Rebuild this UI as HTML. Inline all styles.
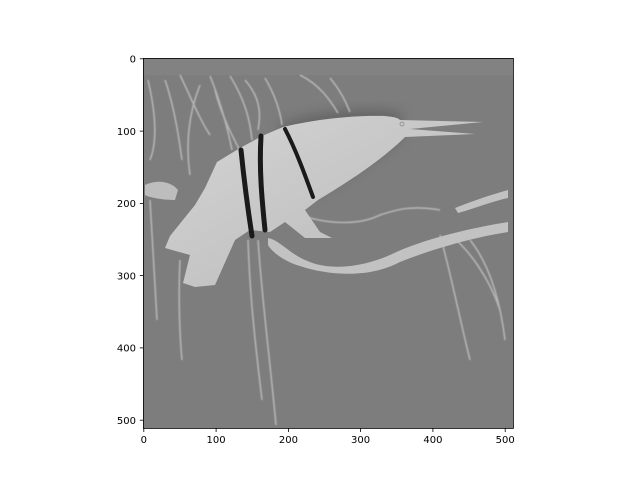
<!DOCTYPE html>
<html><head><meta charset="utf-8"><style>
body{margin:0;background:#fff;}
svg{display:block;font-family:"DejaVu Sans","Liberation Sans",sans-serif;font-size:10px;}
</style></head><body>
<svg width="640" height="480" viewBox="0 0 640 480">
<defs>
<clipPath id="cp"><rect x="143.4" y="58.4" width="370" height="370"/></clipPath>
<linearGradient id="bodyg" x1="0" y1="0" x2="1" y2="1"><stop offset="0" stop-color="#d4d4d4"/><stop offset="1" stop-color="#b8b8b8"/></linearGradient>
<filter id="blur"><feGaussianBlur stdDeviation="6"/></filter>
<filter id="b1"><feGaussianBlur stdDeviation="0.6"/></filter>
</defs>
<g clip-path="url(#cp)">
<rect x="143.4" y="58.4" width="370" height="370" fill="#7d7d7d"/>
<rect x="143.4" y="58.4" width="370" height="17" fill="#828282"/>
<path d="M280,125 C320,110 370,108 400,112 L400,140 C370,160 330,190 300,200 Z" fill="#5a5a5a" filter="url(#blur)" opacity="0.7"/>
<g stroke="#b4b4b4" stroke-width="1.6" fill="none" filter="url(#b1)">
<path d="M148,80 C155,110 158,140 150,160"/>
<path d="M165,80 C172,100 178,130 182,160"/>
<path d="M180,75 C192,100 200,120 210,135"/>
<path d="M200,85 C190,110 185,140 190,175"/>
<path d="M210,76 C220,100 228,130 232,150"/>
<path d="M230,76 C245,100 250,120 252,140"/>
<path d="M245,80 C258,95 262,110 258,130"/>
<path d="M265,78 C275,95 280,110 282,125"/>
<path d="M300,75 C320,85 330,100 338,113"/>
<path d="M330,78 C340,90 345,100 350,112"/>
<path d="M150,200 C152,240 155,280 157,320"/>
<path d="M180,260 C178,300 180,340 182,360"/>
<path d="M248,240 C250,300 256,350 262,400"/>
<path d="M258,240 C262,300 270,360 276,425"/>
<path d="M300,215 C330,225 360,225 380,215 C395,210 410,205 440,210"/>
<path d="M440,235 C450,270 460,320 470,360"/>
<path d="M450,235 C470,250 490,280 500,310"/>
<path d="M470,240 C490,265 500,300 505,340"/>
<path d="M215,90 C222,120 240,150 250,170"/>
</g>
<path d="M145,185 C155,180 170,180 178,190 L175,200 C165,200 150,198 145,195 Z" fill="#bdbdbd"/>
<path d="M268,238 C280,240 290,255 310,262 C330,270 360,268 390,255 C420,240 470,228 508,222 L508,232 C470,238 430,250 400,262 C370,278 330,276 300,266 C285,262 272,252 268,245 Z" fill="#c2c2c2"/>
<path d="M455,208 C470,202 490,195 508,190 L508,198 C490,202 470,210 458,213 Z" fill="#c2c2c2"/>
<path d="M283,127 C320,118 360,115 385,116 C395,117 398,118 400,120 L483,122 L410,129 L475,134 L405,137 C390,152 365,172 318,200 L305,210 L320,232 L332,238 L305,238 L285,222 L270,232 L250,230 L235,240 L215,285 L195,287 L183,283 L190,255 L165,248 L170,236 L195,205 L205,188 L217,162 L240,148 L262,136 Z" fill="url(#bodyg)"/>
<g stroke="#1a1a1a" fill="none" stroke-linecap="round">
<path d="M241,150 C244,180 248,210 252,236" stroke-width="5"/>
<path d="M261,136 C259,170 262,200 265,230" stroke-width="5"/>
<path d="M285,129 C296,150 305,175 313,197" stroke-width="4"/>
</g>
<circle cx="402" cy="124" r="2" fill="none" stroke="#888" stroke-width="0.8"/>
</g>
<rect x="143.4" y="58.4" width="370" height="370" fill="none" stroke="#000" stroke-width="0.8"/>
<g stroke="#000" stroke-width="0.8">
<line x1="143.8" y1="428.4" x2="143.8" y2="432"/><line x1="216.1" y1="428.4" x2="216.1" y2="432"/><line x1="288.4" y1="428.4" x2="288.4" y2="432"/><line x1="360.6" y1="428.4" x2="360.6" y2="432"/><line x1="432.9" y1="428.4" x2="432.9" y2="432"/><line x1="505.2" y1="428.4" x2="505.2" y2="432"/>
<line x1="139.8" y1="58.8" x2="143.4" y2="58.8"/><line x1="139.8" y1="131.1" x2="143.4" y2="131.1"/><line x1="139.8" y1="203.4" x2="143.4" y2="203.4"/><line x1="139.8" y1="275.6" x2="143.4" y2="275.6"/><line x1="139.8" y1="347.9" x2="143.4" y2="347.9"/><line x1="139.8" y1="420.2" x2="143.4" y2="420.2"/>
</g>
<g text-anchor="middle">
<text x="143.8" y="443">0</text><text x="216.1" y="443">100</text><text x="288.4" y="443">200</text><text x="360.6" y="443">300</text><text x="432.9" y="443">400</text><text x="505.2" y="443">500</text>
</g>
<g text-anchor="end">
<text x="136" y="62.5">0</text><text x="136" y="134.8">100</text><text x="136" y="207.1">200</text><text x="136" y="279.3">300</text><text x="136" y="351.6">400</text><text x="136" y="423.9">500</text>
</g>
</svg>
</body></html>
